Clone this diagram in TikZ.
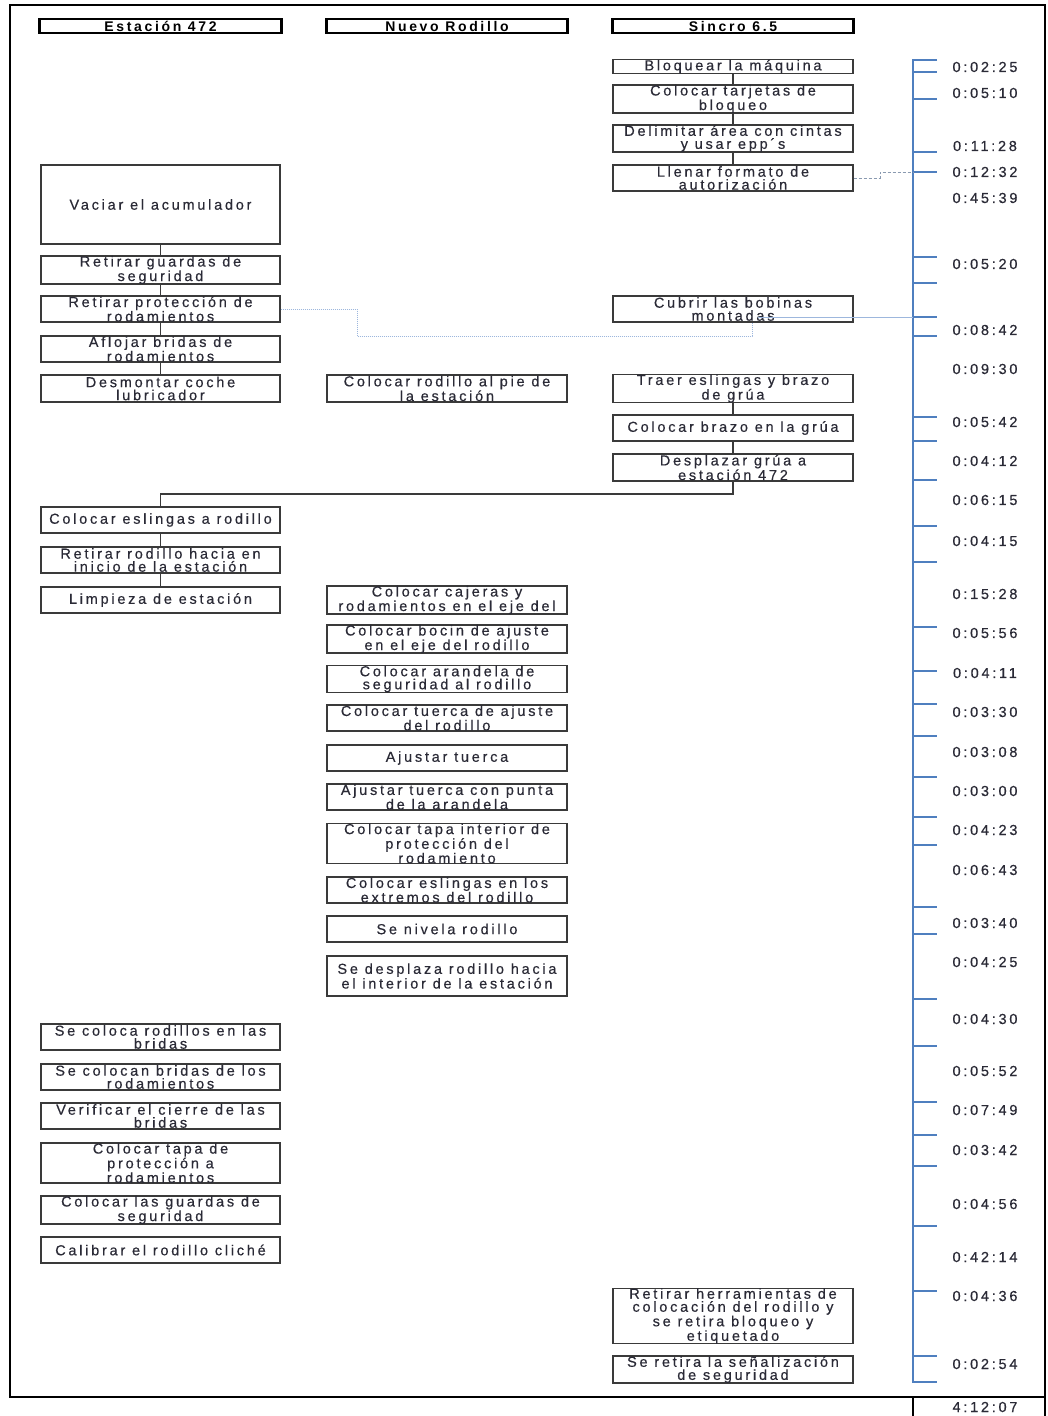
\documentclass[tikz,border=0pt]{standalone}
\usepackage{fontspec}
\setmainfont{Liberation Sans}
\newfontfamily\boxfont{Liberation Sans}[LetterSpace=19, FakeBold=0.4]
\newfontfamily\headfont{Liberation Sans}[LetterSpace=19]
\definecolor{txt}{HTML}{2A2A36}
\definecolor{boxline}{HTML}{3A3A3A}
\definecolor{tlblue}{HTML}{4F7FBF}
\definecolor{lightblue}{HTML}{9DB7DD}
\definecolor{dashgray}{HTML}{8A9AB0}
\begin{document}
\begin{tikzpicture}[x=1pt,y=-1pt,
  box/.style={draw=boxline, line width=1.3pt, fill=white, minimum width=239pt,
    minimum height=26pt, inner sep=0pt, align=center, text=txt,
    font=\boxfont\fontsize{14.5}{13}\selectfont},
  head/.style={draw=black, line width=1.5pt, minimum width=240pt, minimum height=14pt,
    inner sep=0pt, text=black, font=\headfont\bfseries\fontsize{14}{13}\selectfont},
  link/.style={draw=boxline, line width=1.7pt},
  dotlink/.style={draw=lightblue, line width=1pt, densely dotted},
  bluelink/.style={draw=lightblue, line width=1pt},
  dashlink/.style={draw=dashgray, line width=1pt, densely dashed},
  tline/.style={draw=tlblue, line width=2.6pt},
  tick/.style={draw=tlblue, line width=1.6pt},
  time/.style={inner sep=0pt, text=txt, font=\boxfont\fontsize{14.5}{13}\selectfont}]
\useasboundingbox (0,0) rectangle (1048,1416);
\fill[white] (0,0) rectangle (1048,1416);

% outer frame and total row
\draw[black, line width=2.5pt] (10,5) rectangle (1045,1397);
\draw[black, line width=2.5pt] (913,1397) -- (913,1416);
\draw[black, line width=2.5pt] (1045,1397) -- (1045,1416);

% column headers
\node[head] (h1) at (160.5,26) {Estación 472};
\node[head] (h2) at (447,26) {Nuevo Rodillo};
\node[head] (h3) at (733,26) {Sincro 6.5};
\foreach \h in {h1,h2,h3}{
  \draw[black, line width=3pt] (\h.north west) -- (\h.south west);
  \draw[black, line width=3pt] (\h.north east) -- (\h.south east);
}

% Estación 472
\node[box, minimum height=79pt] (vaciar) at (160.5,204.5) {Vaciar el acumulador};
\node[box] (guardas) at (160.5,270) {Retirar guardas de\\seguridad};
\node[box] (proteccion) at (160.5,309) {Retirar protección de\\rodamientos};
\node[box] (aflojar) at (160.5,349) {Aflojar bridas de\\rodamientos};
\node[box, minimum height=27pt] (desmontar) at (160.5,388.5) {Desmontar coche\\lubricador};
\node[box] (eslingasL) at (160.5,520) {Colocar eslingas a rodillo};
\node[box] (retirarRod) at (160.5,560) {Retirar rodillo hacia en\\inicio de la estación};
\node[box] (limpieza) at (160.5,600) {Limpieza de estación};
\node[box] (colocaRod) at (160.5,1037) {Se coloca rodillos en las\\bridas};
\node[box] (bridas) at (160.5,1077) {Se colocan bridas de los\\rodamientos};
\node[box] (verificar) at (160.5,1116) {Verificar el cierre de las\\bridas};
\node[box, minimum height=40pt] (tapa) at (160.5,1163) {Colocar tapa de\\protección a\\rodamientos};
\node[box] (guardasL) at (160.5,1210) {Colocar las guardas de\\seguridad};
\node[box] (calibrar) at (160.5,1250) {Calibrar el rodillo cliché};

% Nuevo Rodillo
\node[box, minimum width=240pt, minimum height=27pt] (pie) at (447,388.5) {Colocar rodillo al pie de\\la estación};
\node[box, minimum width=240pt] (cajeras) at (447,600) {Colocar cajeras y\\rodamientos en el eje del};
\node[box, minimum width=240pt] (bocin) at (447,639) {Colocar bocin de ajuste\\en el eje del rodillo};
\node[box, minimum width=240pt] (arandela) at (447,679) {Colocar arandela de\\seguridad al rodillo};
\node[box, minimum width=240pt] (tuerca) at (447,718) {Colocar tuerca de ajuste\\del rodillo};
\node[box, minimum width=240pt] (ajustar) at (447,758) {Ajustar tuerca};
\node[box, minimum width=240pt] (punta) at (447,797) {Ajustar tuerca con punta\\de la arandela};
\node[box, minimum width=240pt, minimum height=39pt] (tapaInt) at (447,843.5) {Colocar tapa interior de\\protección del\\rodamiento};
\node[box, minimum width=240pt] (eslingasM) at (447,890) {Colocar eslingas en los\\extremos del rodillo};
\node[box, minimum width=240pt] (nivela) at (447,929) {Se nivela rodillo};
\node[box, minimum width=240pt, minimum height=40pt] (desplaza) at (447,976) {Se desplaza rodillo hacia\\el interior de la estación};

% Sincro 6.5
\node[box, minimum width=240pt, minimum height=13pt] (bloquear) at (733,66.5) {Bloquear la máquina};
\node[box, minimum width=240pt] (tarjetas) at (733,99) {Colocar tarjetas de\\bloqueo};
\node[box, minimum width=240pt, minimum height=27pt] (delimitar) at (733,138.5) {Delimitar área con cintas\\y usar epp´s};
\node[box, minimum width=240pt] (llenar) at (733,178) {Llenar formato de\\autorización};
\node[box, minimum width=240pt] (cubrir) at (733,309) {Cubrir las bobinas\\montadas};
\node[box, minimum width=240pt, minimum height=27pt] (traer) at (733,388.5) {Traer eslingas y brazo\\de grúa};
\node[box, minimum width=240pt] (brazo) at (733,428) {Colocar brazo en la grúa};
\node[box, minimum width=240pt, minimum height=27pt] (desplazar) at (733,467.5) {Desplazar grúa a\\estación 472};
\node[box, minimum width=240pt, minimum height=54pt] (herramientas) at (733,1316) {Retirar herramientas de\\colocación del rodillo y\\se retira bloqueo y\\etiquetado};
\node[box, minimum width=240pt, minimum height=27pt] (senal) at (733,1369.5) {Se retira la señalización\\de seguridad};

% sequence connectors
\draw[link] (vaciar) -- (guardas);
\draw[link] (guardas) -- (proteccion);
\draw[link] (proteccion) -- (aflojar);
\draw[link] (aflojar) -- (desmontar);
\draw[link] (eslingasL) -- (retirarRod);
\draw[link] (retirarRod) -- (limpieza);
\draw[link] (bloquear) -- (tarjetas);
\draw[link] (tarjetas) -- (delimitar);
\draw[link] (delimitar) -- (llenar);
\draw[link] (traer) -- (brazo);
\draw[link] (brazo) -- (desplazar);
\draw[link] (desplazar.south) -- ++(0,12) -| (eslingasL.north);

% time scale
\draw[tline] (937,60) -- (913,60) -- (913,1382) -- (937,1382);
\foreach \y in {72,99,152,172,257,283,317,336,417,441,480,526,562,627,671,704,736,777,817,845,907,934,999,1046,1102,1135,1166,1226,1291,1356}
  \draw[tick] (913,\y) -- (937,\y);
\coordinate (tA) at (913,172);
\coordinate (tB) at (913,317);

% cross links to the time scale
\coordinate (k1) at (880,178);
\coordinate (k2) at (880,172);
\draw[dashlink] (llenar.east) -- (k1) -- (k2) -- (tA);
\coordinate (p1) at (357,309);
\coordinate (p2) at (357,336);
\coordinate (p3) at (752,336);
\draw[dotlink] (proteccion.east) -- (p1) -- (p2) -- (p3) -- (p3 |- cubrir.south);
\coordinate (c1) at (758,317);
\draw[bluelink] (c1) -- (tB);

% durations
\foreach \y/\t [count=\i] in {67/0:02:25,93/0:05:10,146/0:11:28,172/0:12:32,198/0:45:39,264/0:05:20,330/0:08:42,369/0:09:30,422/0:05:42,461/0:04:12,500/0:06:15,541/0:04:15,594/0:15:28,633/0:05:56,673/0:04:11,712/0:03:30,752/0:03:08,791/0:03:00,830/0:04:23,870/0:06:43,923/0:03:40,962/0:04:25,1019/0:04:30,1071/0:05:52,1110/0:07:49,1150/0:03:42,1204/0:04:56,1257/0:42:14,1296/0:04:36,1364/0:02:54}
  \node[time] (t\i) at (985,\y) {\t};
\node[time] (total) at (985,1407) {4:12:07};
\end{tikzpicture}
\end{document}
